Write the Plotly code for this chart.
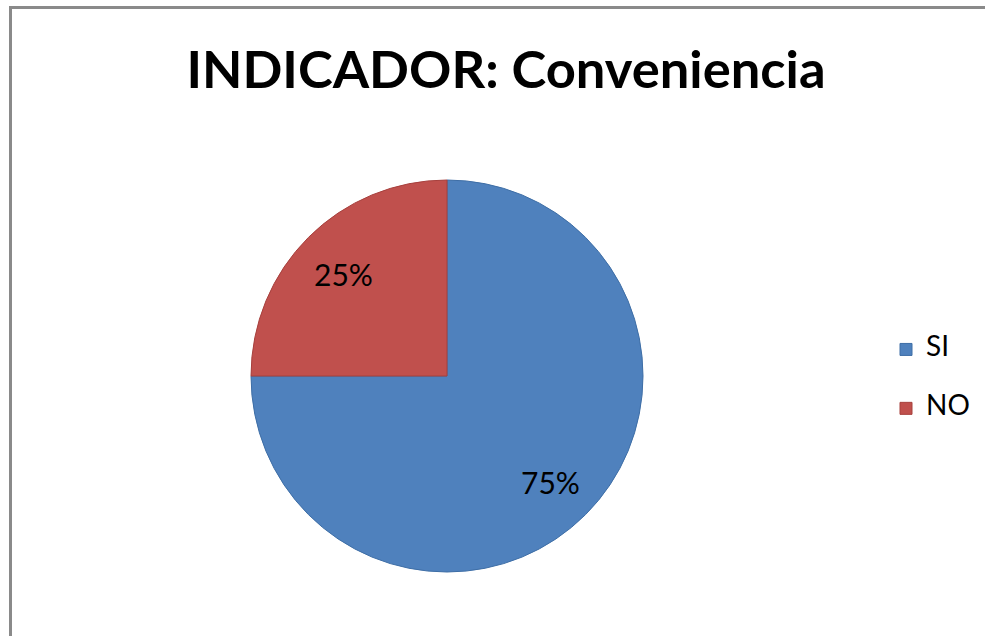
import math
import plotly.graph_objects as go

categories = ["SI", "NO"]
values = [75, 25]
colors = ["#4F81BD", "#C0504D"]
edge_colors = ["#3E6EA6", "#A7403D"]
title_text = "INDICADOR: Conveniencia"

W, H = 985, 636
cx, cy, r = 447, 376, 196


def px_x(x):
    return x / W


def px_y(y):
    return 1 - y / H


legend_labels = [
    f"<span style='font-size:28px;baseline-shift:10px'>{c}</span>" for c in categories
]

fig = go.Figure(
    go.Pie(
        labels=legend_labels,
        values=values,
        sort=False,
        direction="clockwise",
        rotation=0,
        marker=dict(colors=colors, line=dict(color=edge_colors, width=1)),
        textinfo="none",
        domain=dict(x=[(cx - r) / W, (cx + r) / W], y=[1 - (cy + r) / H, 1 - (cy - r) / H]),
        hoverinfo="label+percent",
    )
)

# percentage labels placed along each slice's mid-angle (derived from values)
total = sum(values)
start = 0.0
annotations = []
for v in values:
    mid = start + v / total / 2
    ang = 2 * math.pi * mid  # clockwise from 12 o'clock
    lx = cx + 0.75 * r * math.sin(ang)
    ly = cy - 0.75 * r * math.cos(ang) + 2
    annotations.append(
        dict(
            x=lx / W, y=1 - ly / H, xref="paper", yref="paper",
            text=f"{round(100 * v / total)}%", showarrow=False,
            font=dict(family="Lato", size=30, color="#000000"),
            xanchor="center", yanchor="middle",
        )
    )
    start += v / total

fig.update_layout(
    width=W,
    height=H,
    margin=dict(l=0, r=0, t=0, b=0),
    paper_bgcolor="#FFFFFF",
    plot_bgcolor="#FFFFFF",
    title=dict(
        text=f"<b>{title_text}</b>",
        x=px_x(506),
        xanchor="center",
        y=px_y(70),
        yanchor="middle",
        font=dict(family="Lato", size=52.5, color="#000000"),
    ),
    legend=dict(
        x=px_x(886),
        xanchor="left",
        y=px_y(379),
        yanchor="middle",
        font=dict(family="Lato", size=43, color="#000000"),
        bgcolor="rgba(0,0,0,0)",
        itemclick=False,
    ),
    annotations=annotations,
    shapes=[
        dict(type="line", xref="paper", yref="paper", x0=px_x(10.5), x1=px_x(10.5), y0=0, y1=px_y(6),
             line=dict(color="#8A8A8A", width=3)),
        dict(type="line", xref="paper", yref="paper", x0=px_x(9), x1=1, y0=px_y(7.5), y1=px_y(7.5),
             line=dict(color="#8A8A8A", width=3)),
    ],
)

fig.write_html(
    "out.html",
    config={"displayModeBar": False},
    post_script="document.body.style.margin='0';document.body.style.overflow='hidden';",
)
